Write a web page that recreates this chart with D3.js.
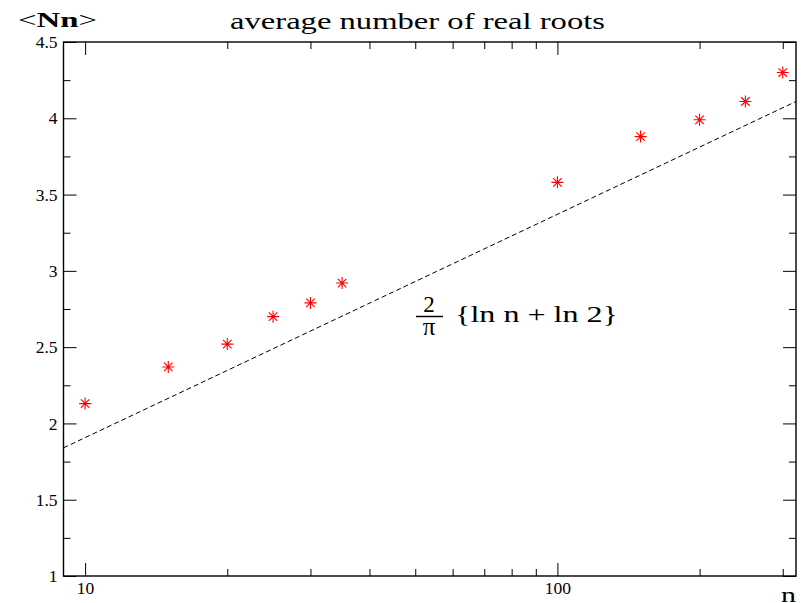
<!DOCTYPE html>
<html>
<head>
<meta charset="utf-8">
<script src="https://cdn.jsdelivr.net/npm/d3@7"></script>
<style>
  body { margin: 0; background: #fff; }
  svg { display: block; }
  text { font-family: "Liberation Serif", "Times New Roman", serif; fill: #000; }
</style>
</head>
<body>
<svg id="chart" width="802" height="603"></svg>
<script>
// data
var nValues = [10, 15, 20, 25, 30, 35, 100, 150, 200, 250, 300];
var avgRoots = [2.13, 2.37, 2.52, 2.70, 2.79, 2.92, 3.58, 3.88, 3.99, 4.11, 4.30];
// theory line 2/pi (ln n + ln 2), end points as drawn
var curveN = [9, 320];
var curveValues = [1.84, 4.11];

var xMajorTicks = [10, 100];
var xMinorTicks = [20, 30, 40, 50, 60, 70, 80, 90, 200, 300];
var yMajorTicks = [1, 1.5, 2, 2.5, 3, 3.5, 4, 4.5];
var yMinorTicks = [1.25, 1.75, 2.25, 2.75, 3.25, 3.75, 4.25];

var plotLeft = 63.5, plotRight = 796, plotTop = 42, plotBottom = 576;

var svg = d3.select('#chart');

var x = d3.scaleLog().domain([9, 320]).range([plotLeft, plotRight]);
var y = d3.scaleLinear().domain([1, 4.5]).range([plotBottom, plotTop]);

function strip(g) {
  g.attr('font-size', 17.5).attr('font-family', '"Liberation Serif", "Times New Roman", serif');
  g.select('.domain').remove();
  g.selectAll('line').attr('stroke', '#000').attr('stroke-width', 1);
  g.selectAll('text').attr('fill', '#000');
}

// bottom
svg.append('g').attr('transform', 'translate(0,' + plotBottom + ')')
  .call(d3.axisBottom(x).tickValues(xMajorTicks).tickSize(-13).tickPadding(6).tickFormat(d3.format('d')))
  .call(strip);
svg.append('g').attr('transform', 'translate(0,' + plotBottom + ')')
  .call(d3.axisBottom(x).tickValues(xMinorTicks).tickSize(-7).tickFormat(''))
  .call(strip);
// top
svg.append('g').attr('transform', 'translate(0,' + plotTop + ')')
  .call(d3.axisTop(x).tickValues(xMajorTicks).tickSize(-13).tickFormat(''))
  .call(strip);
svg.append('g').attr('transform', 'translate(0,' + plotTop + ')')
  .call(d3.axisTop(x).tickValues(xMinorTicks).tickSize(-7).tickFormat(''))
  .call(strip);
// left
svg.append('g').attr('transform', 'translate(' + plotLeft + ',0)')
  .call(d3.axisLeft(y).tickValues(yMajorTicks).tickSize(-13).tickPadding(6).tickFormat(d3.format('')))
  .call(strip);
svg.append('g').attr('transform', 'translate(' + plotLeft + ',0)')
  .call(d3.axisLeft(y).tickValues(yMinorTicks).tickSize(-7).tickFormat(''))
  .call(strip);
// right
svg.append('g').attr('transform', 'translate(' + plotRight + ',0)')
  .call(d3.axisRight(y).tickValues(yMajorTicks).tickSize(-13).tickFormat(''))
  .call(strip);
svg.append('g').attr('transform', 'translate(' + plotRight + ',0)')
  .call(d3.axisRight(y).tickValues(yMinorTicks).tickSize(-7).tickFormat(''))
  .call(strip);

// frame
svg.append('rect')
  .attr('x', plotLeft).attr('y', plotTop)
  .attr('width', plotRight - plotLeft).attr('height', plotBottom - plotTop)
  .attr('fill', 'none').attr('stroke', '#000').attr('stroke-width', 1.4);

// dashed theory line
var line = d3.line()
  .x(function (d) { return x(d[0]); })
  .y(function (d) { return y(d[1]); });
svg.append('path')
  .datum(d3.zip(curveN, curveValues))
  .attr('d', line)
  .attr('fill', 'none')
  .attr('stroke', '#000')
  .attr('stroke-width', 1)
  .attr('stroke-dasharray', '5,3');

// red asterisks
var r = 6;
svg.append('g').selectAll('path.star')
  .data(d3.zip(nValues, avgRoots))
  .enter().append('path')
  .attr('class', 'star')
  .attr('transform', function (d) { return 'translate(' + x(d[0]) + ',' + y(d[1]) + ')'; })
  .attr('d', function () {
    var a = r * Math.SQRT1_2;
    return 'M0,' + (-r) + 'V' + r + 'M' + (-r) + ',0H' + r +
           'M' + (-a) + ',' + (-a) + 'L' + a + ',' + a +
           'M' + (-a) + ',' + a + 'L' + a + ',' + (-a);
  })
  .attr('stroke', '#ff0000')
  .attr('stroke-width', 1.1)
  .attr('fill', 'none');

// title and axis names (the source font is drawn wide, so stretch to the measured width)
svg.append('text')
  .attr('x', 230).attr('y', 29)
  .attr('font-size', 23)
  .attr('textLength', 375).attr('lengthAdjust', 'spacingAndGlyphs')
  .text('average number of real roots');

var yl = svg.append('text').attr('x', 18).attr('y', 27).attr('font-size', 22)
  .attr('textLength', 79).attr('lengthAdjust', 'spacingAndGlyphs');
yl.append('tspan').text('<');
yl.append('tspan').attr('font-weight', 'bold').text('Nn');
yl.append('tspan').text('>');

svg.append('text')
  .attr('x', 781).attr('y', 602)
  .attr('font-size', 22)
  .attr('textLength', 15).attr('lengthAdjust', 'spacingAndGlyphs')
  .text('n');

// formula label
var fx = 429;
svg.append('text').attr('x', fx).attr('y', 312)
  .attr('text-anchor', 'middle').attr('font-size', 23)
  .attr('font-family', '"DejaVu Sans", sans-serif').text('2');
svg.append('line')
  .attr('x1', 416).attr('x2', 443).attr('y1', 316.5).attr('y2', 316.5)
  .attr('stroke', '#000').attr('stroke-width', 1.5);
svg.append('text').attr('x', fx).attr('y', 335)
  .attr('text-anchor', 'middle').attr('font-size', 25)
  .attr('font-family', '"DejaVu Sans", sans-serif').text('π');
svg.append('text').attr('x', 455).attr('y', 322)
  .attr('font-size', 23)
  .attr('textLength', 163).attr('lengthAdjust', 'spacingAndGlyphs')
  .text('{ln n + ln 2}');
</script>
</body>
</html>
